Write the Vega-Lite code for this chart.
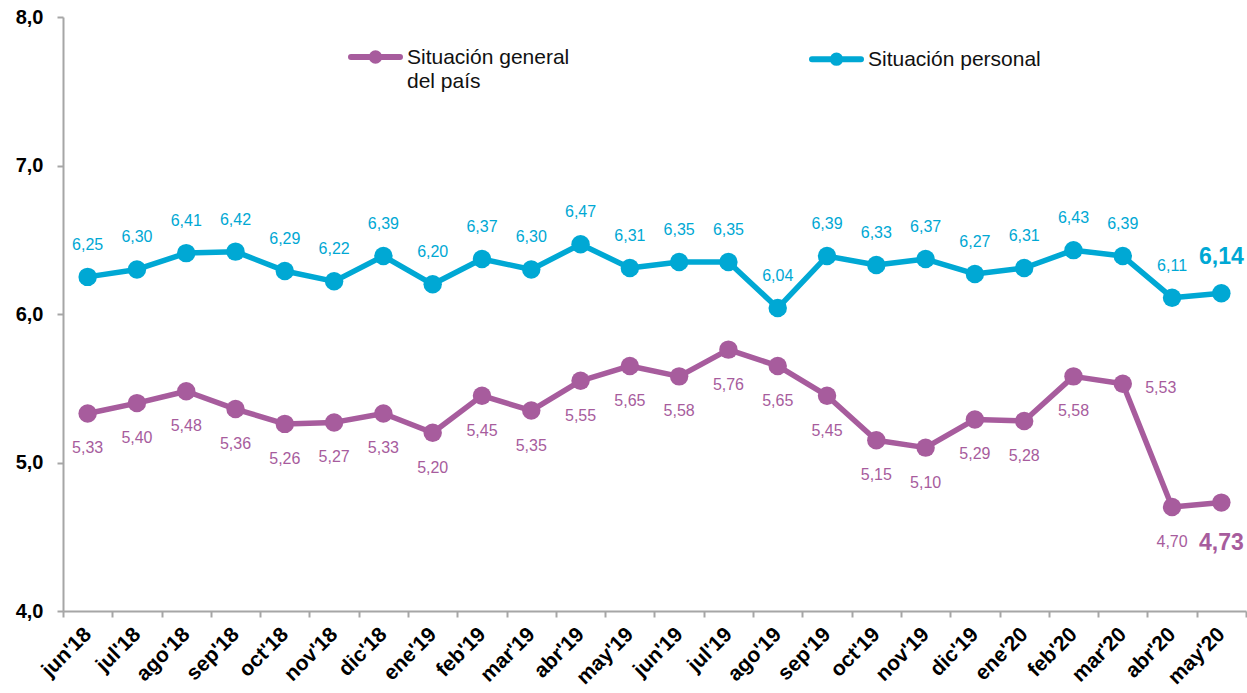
{
  "$schema": "https://vega.github.io/schema/vega-lite/v6.json",
  "width": 1183,
  "height": 594,
  "autosize": {"type": "none"},
  "padding": {"left": 63, "top": 17, "right": 1, "bottom": 82},
  "background": "white",
  "config": {
    "locale": {"number": {"decimal": ",", "thousands": ".", "grouping": [3], "currency": ["", " €"]}},
    "font": "Liberation Sans",
    "view": {"stroke": null}
  },
  "data": {
    "values": [
      {"mes": "jun'18", "serie": "Situación general del país", "valor": 5.33},
      {"mes": "jul'18", "serie": "Situación general del país", "valor": 5.40},
      {"mes": "ago'18", "serie": "Situación general del país", "valor": 5.48},
      {"mes": "sep'18", "serie": "Situación general del país", "valor": 5.36},
      {"mes": "oct'18", "serie": "Situación general del país", "valor": 5.26},
      {"mes": "nov'18", "serie": "Situación general del país", "valor": 5.27},
      {"mes": "dic'18", "serie": "Situación general del país", "valor": 5.33},
      {"mes": "ene'19", "serie": "Situación general del país", "valor": 5.20},
      {"mes": "feb'19", "serie": "Situación general del país", "valor": 5.45},
      {"mes": "mar'19", "serie": "Situación general del país", "valor": 5.35},
      {"mes": "abr'19", "serie": "Situación general del país", "valor": 5.55},
      {"mes": "may'19", "serie": "Situación general del país", "valor": 5.65},
      {"mes": "jun'19", "serie": "Situación general del país", "valor": 5.58},
      {"mes": "jul'19", "serie": "Situación general del país", "valor": 5.76},
      {"mes": "ago'19", "serie": "Situación general del país", "valor": 5.65},
      {"mes": "sep'19", "serie": "Situación general del país", "valor": 5.45},
      {"mes": "oct'19", "serie": "Situación general del país", "valor": 5.15},
      {"mes": "nov'19", "serie": "Situación general del país", "valor": 5.10},
      {"mes": "dic'19", "serie": "Situación general del país", "valor": 5.29},
      {"mes": "ene'20", "serie": "Situación general del país", "valor": 5.28},
      {"mes": "feb'20", "serie": "Situación general del país", "valor": 5.58},
      {"mes": "mar'20", "serie": "Situación general del país", "valor": 5.53},
      {"mes": "abr'20", "serie": "Situación general del país", "valor": 4.70},
      {"mes": "may'20", "serie": "Situación general del país", "valor": 4.73},
      {"mes": "jun'18", "serie": "Situación personal", "valor": 6.25},
      {"mes": "jul'18", "serie": "Situación personal", "valor": 6.30},
      {"mes": "ago'18", "serie": "Situación personal", "valor": 6.41},
      {"mes": "sep'18", "serie": "Situación personal", "valor": 6.42},
      {"mes": "oct'18", "serie": "Situación personal", "valor": 6.29},
      {"mes": "nov'18", "serie": "Situación personal", "valor": 6.22},
      {"mes": "dic'18", "serie": "Situación personal", "valor": 6.39},
      {"mes": "ene'19", "serie": "Situación personal", "valor": 6.20},
      {"mes": "feb'19", "serie": "Situación personal", "valor": 6.37},
      {"mes": "mar'19", "serie": "Situación personal", "valor": 6.30},
      {"mes": "abr'19", "serie": "Situación personal", "valor": 6.47},
      {"mes": "may'19", "serie": "Situación personal", "valor": 6.31},
      {"mes": "jun'19", "serie": "Situación personal", "valor": 6.35},
      {"mes": "jul'19", "serie": "Situación personal", "valor": 6.35},
      {"mes": "ago'19", "serie": "Situación personal", "valor": 6.04},
      {"mes": "sep'19", "serie": "Situación personal", "valor": 6.39},
      {"mes": "oct'19", "serie": "Situación personal", "valor": 6.33},
      {"mes": "nov'19", "serie": "Situación personal", "valor": 6.37},
      {"mes": "dic'19", "serie": "Situación personal", "valor": 6.27},
      {"mes": "ene'20", "serie": "Situación personal", "valor": 6.31},
      {"mes": "feb'20", "serie": "Situación personal", "valor": 6.43},
      {"mes": "mar'20", "serie": "Situación personal", "valor": 6.39},
      {"mes": "abr'20", "serie": "Situación personal", "valor": 6.11},
      {"mes": "may'20", "serie": "Situación personal", "valor": 6.14}
    ]
  },
  "encoding": {
    "x": {
      "field": "mes", "type": "nominal", "sort": null,
      "scale": {"type": "band", "paddingInner": 0, "paddingOuter": 0},
      "axis": {
        "title": null, "tickBand": "extent", "labelAngle": -45, "labelAlign": "right", "labelBaseline": "middle",
        "labelFont": "Liberation Sans", "labelFontWeight": "bold", "labelFontSize": 21, "labelColor": "#000000",
        "labelPadding": 14, "domainColor": "#a6a6a6", "domainWidth": 2, "tickColor": "#a6a6a6", "tickWidth": 2, "tickSize": 6,
        "grid": false
      }
    },
    "y": {
      "field": "valor", "type": "quantitative",
      "scale": {"domain": [4, 8], "nice": false, "zero": false},
      "axis": {
        "title": null, "values": [4, 5, 6, 7, 8], "format": ".1f",
        "labelFont": "Liberation Sans", "labelFontWeight": "bold", "labelFontSize": 20, "labelColor": "#000000",
        "labelPadding": 14, "domainColor": "#a6a6a6", "domainWidth": 2, "tickColor": "#a6a6a6", "tickWidth": 2, "tickSize": 6,
        "grid": false
      }
    },
    "color": {
      "field": "serie", "type": "nominal",
      "scale": {"domain": ["Situación general del país", "Situación personal"], "range": ["#a75c9d", "#00a8d4"]},
      "legend": {
        "title": null, "orient": "none", "direction": "horizontal", "legendX": 285, "legendY": 28,
        "symbolType": "M-1,0L1,0M0.15,0A0.15,0.15,0,1,1,-0.15,0A0.15,0.15,0,1,1,0.15,0",
        "symbolSize": 2401, "symbolStrokeWidth": 6, "labelOffset": 4, "columnPadding": 230,
        "labelFont": "Liberation Sans", "labelFontSize": 21, "labelColor": "#111111", "labelBaseline": "top", "labelLimit": 400,
        "labelExpr": "datum.label == 'Situación general del país' ? ['Situación general', 'del país'] : datum.label",
        "padding": 0,
        "encode": {
          "symbols": {"update": {"y": {"signal": "datum.value == 'Situación personal' ? -3 : 12"}, "fill": {"scale": "color", "field": "value"}, "stroke": {"scale": "color", "field": "value"}, "strokeCap": {"value": "round"}}},
          "labels": {"update": {"y": {"signal": "datum.value == 'Situación personal' ? -13 : 2"}, "lineHeight": {"value": 24}}}
        }
      }
    }
  },
  "layer": [
    {"mark": {"type": "line", "strokeWidth": 5.5, "strokeJoin": "round"}},
    {"mark": {"type": "circle", "size": 340, "opacity": 1}},
    {
      "transform": [{"filter": "datum.serie == 'Situación personal' && datum.mes != \"may'20\""}],
      "mark": {"type": "text", "dy": -32, "fontSize": 16, "font": "Liberation Sans"},
      "encoding": {"text": {"field": "valor", "type": "quantitative", "format": ".2f"}}
    },
    {
      "transform": [{"filter": "datum.serie == 'Situación personal' && datum.mes == \"may'20\""}],
      "mark": {"type": "text", "dy": -36, "fontSize": 23, "fontWeight": "bold", "font": "Liberation Sans"},
      "encoding": {"text": {"field": "valor", "type": "quantitative", "format": ".2f"}}
    },
    {
      "transform": [{"filter": "datum.serie == 'Situación general del país' && datum.mes != \"may'20\" && datum.mes != \"mar'20\""}],
      "mark": {"type": "text", "dy": 35, "fontSize": 16, "font": "Liberation Sans"},
      "encoding": {"text": {"field": "valor", "type": "quantitative", "format": ".2f"}}
    },
    {
      "transform": [{"filter": "datum.serie == 'Situación general del país' && datum.mes == \"mar'20\""}],
      "mark": {"type": "text", "dx": 38, "dy": 4, "fontSize": 16, "font": "Liberation Sans"},
      "encoding": {"text": {"field": "valor", "type": "quantitative", "format": ".2f"}}
    },
    {
      "transform": [{"filter": "datum.serie == 'Situación general del país' && datum.mes == \"may'20\""}],
      "mark": {"type": "text", "dy": 40, "fontSize": 23, "fontWeight": "bold", "font": "Liberation Sans"},
      "encoding": {"text": {"field": "valor", "type": "quantitative", "format": ".2f"}}
    }
  ]
}
